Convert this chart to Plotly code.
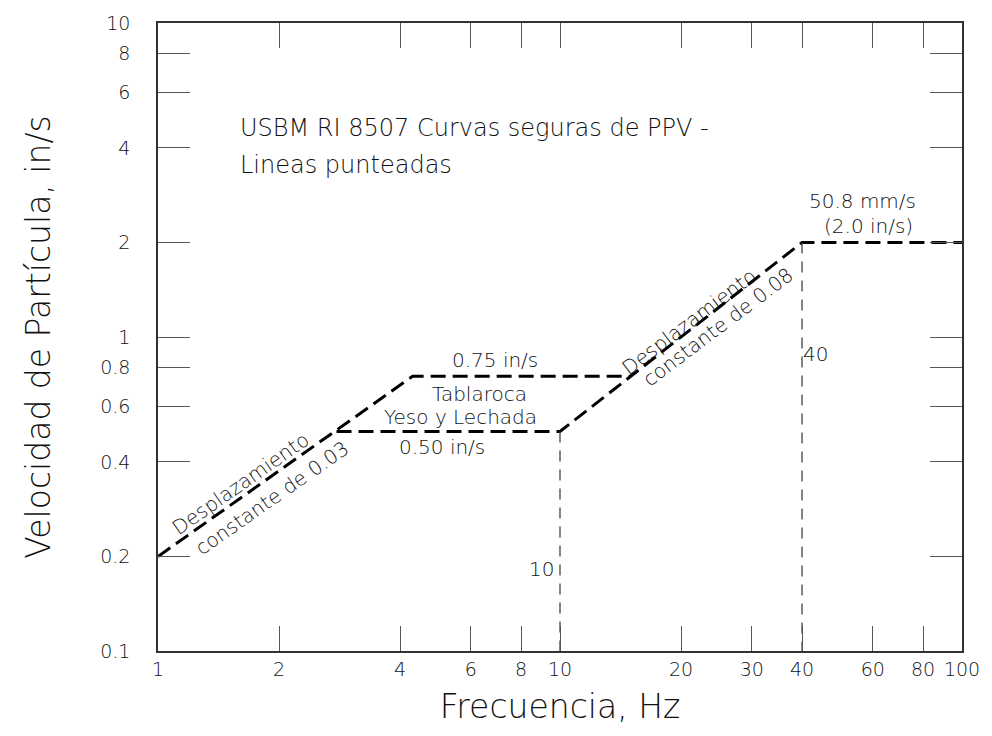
import math
import plotly.graph_objects as go

# Safe-level curves (frequency in Hz, peak particle velocity in in/s)
tablaroca_freq = [1, 4.3, 15]
tablaroca_ppv = [0.2, 0.75, 0.75]
yeso_freq = [2.78, 10, 40, 100]
yeso_ppv = [0.5, 0.5, 2.0, 2.0]

# Reference verticals at the break frequencies
ref_freqs = [10, 40]
ref_tops = [0.5, 2.0]

x_ticks = [1, 2, 4, 6, 8, 10, 20, 30, 40, 60, 80, 100]
y_ticks = [0.1, 0.2, 0.4, 0.6, 0.8, 1, 2, 4, 6, 8, 10]

FONT = "DejaVu Sans"
INK = "#111111"

fig = go.Figure()

curve_style = dict(color="black", width=3, dash="15px,7px")
fig.add_trace(go.Scatter(x=tablaroca_freq, y=tablaroca_ppv, mode="lines",
                         line=curve_style, hoverinfo="skip"))
fig.add_trace(go.Scatter(x=yeso_freq, y=yeso_ppv, mode="lines",
                         line=curve_style, hoverinfo="skip"))
for f, top in zip(ref_freqs, ref_tops):
    fig.add_trace(go.Scatter(x=[f, f], y=[top, 0.1], mode="lines",
                             line=dict(color="#444444", width=1.3, dash="11px,8px"),
                             hoverinfo="skip"))


def note(text, f, v, size=20, angle=0, xanchor="center"):
    fig.add_annotation(x=math.log10(f), y=math.log10(v), text=text,
                       showarrow=False, textangle=angle, xanchor=xanchor,
                       yanchor="middle",
                       font=dict(family=FONT, size=size, color=INK, weight=200))


note("USBM RI 8507 Curvas seguras de PPV -", 1.58, 4.63, size=24, xanchor="left")
note("Lineas punteadas", 1.58, 3.52, size=24, xanchor="left")
note("50.8 mm/s", 56.4, 2.72)
note("(2.0 in/s)", 58.7, 2.26)
note("0.75 in/s", 6.89, 0.846)
note("Tablaroca", 6.32, 0.660)
note("Yeso y Lechada", 5.64, 0.558)
note("0.50 in/s", 5.09, 0.446)
note("Desplazamiento", 1.6, 0.34, angle=-35)
note("constante de 0.03", 1.92, 0.308, angle=-35)
note("Desplazamiento", 20.9, 1.12, angle=-37)
note("constante de 0.08", 24.7, 1.08, angle=-37)
note("10", 8.97, 0.182)
note("40", 43.3, 0.883)

axis_common = dict(type="log", showgrid=False, zeroline=False, showline=True,
                   linecolor="#333333", linewidth=1.5, mirror="allticks",
                   ticks="inside", tickcolor="#555555", tickwidth=1.3,
                   tickfont=dict(family=FONT, size=19, color=INK, weight=200),
                   title_font=dict(family=FONT, size=33, color=INK, weight=200))

fig.update_xaxes(**axis_common, range=[0, 2], tickvals=x_ticks,
                 ticktext=[str(t) for t in x_ticks], ticklen=25,
                 title_text="Frecuencia, Hz", title_standoff=16)
fig.update_yaxes(**axis_common, range=[-1, 1], tickvals=y_ticks,
                 ticktext=[str(t) for t in y_ticks], ticklen=32,
                 ticklabelstandoff=22,
                 title_text="Velocidad de Partícula, in/s", title_standoff=40)

fig.update_layout(width=992, height=736, showlegend=False,
                  margin=dict(l=158, r=30, t=19, b=85),
                  paper_bgcolor="white", plot_bgcolor="white")

fig.write_html("out.html")
